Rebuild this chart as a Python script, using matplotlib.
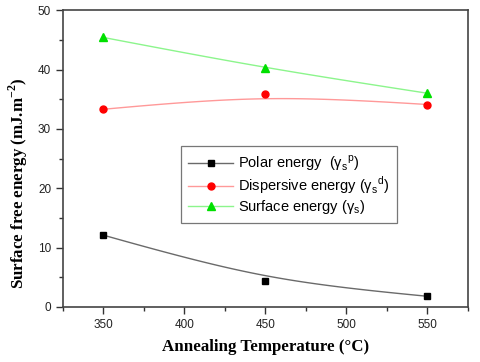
import numpy as np
import matplotlib
matplotlib.use("Agg")
import matplotlib.pyplot as plt
from matplotlib.ticker import MultipleLocator
from matplotlib.lines import Line2D

temperature = [350, 450, 550]
polar = [12.1, 4.4, 1.8]
dispersive = [33.3, 35.8, 34.1]
surface = [45.4, 40.2, 36.0]

labels = [r"Polar energy  (γ$_{\mathregular{s}}{}^{\mathregular{p}}$)",
          r"Dispersive energy (γ$_{\mathregular{s}}{}^{\mathregular{d}}$)",
          r"Surface energy (γ$_{\mathregular{s}}$)"]


def bspline(xs, ys, w=1.9, n=100):
    # rational quadratic B-spline (Origin-style smooth connection)
    t = np.linspace(0, 1, n)
    b0, b1, b2 = (1 - t) ** 2, 2 * t * (1 - t) * w, t ** 2
    d = b0 + b1 + b2
    x = (b0 * xs[0] + b1 * xs[1] + b2 * xs[2]) / d
    y = (b0 * ys[0] + b1 * ys[1] + b2 * ys[2]) / d
    return x, y


plt.rcParams["mathtext.fontset"] = "custom"
plt.rcParams["mathtext.rm"] = "Liberation Sans"
plt.rcParams["mathtext.bf"] = "Liberation Serif:bold"

fig = plt.figure(figsize=(4.8, 3.62), dpi=100)
ax = fig.add_axes([0.131, 0.152, 0.844, 0.820])

series = [
    (polar, "#6a6a6a", "black", "s", 4.5),
    (dispersive, "#ff9999", "#ff0000", "o", 5),
    (surface, "#8cf58c", "#00e000", "^", 5.5),
]
handles = []
for (vals, lc, mc, mk, ms), lab in zip(series, labels):
    cx, cy = bspline(temperature, vals)
    ax.plot(cx, cy, color=lc, lw=1.0, zorder=2)
    ax.plot(temperature, vals, linestyle="none", marker=mk, ms=ms,
            color=mc, mec=mc, zorder=3)
    handles.append(Line2D([], [], color=lc, lw=1.0, marker=mk, ms=ms,
                          mfc=mc, mec=mc))

ax.set_xlim(325, 575)
ax.set_ylim(0, 50)
ax.xaxis.set_major_locator(MultipleLocator(50))
ax.xaxis.set_minor_locator(MultipleLocator(25))
ax.yaxis.set_major_locator(MultipleLocator(10))
ax.yaxis.set_minor_locator(MultipleLocator(5))
ax.tick_params(which="both", direction="out", top=False, right=False,
               color="#333333", width=1.0, labelsize=8.5,
               labelfontfamily="Liberation Sans", labelcolor="#222222")
ax.tick_params(which="major", length=5)
ax.tick_params(which="minor", length=3)
for s in ax.spines.values():
    s.set_color("#444444")
    s.set_linewidth(1.2)

ax.set_xlabel("Annealing Temperature (°C)", family="Liberation Serif",
              fontweight="bold", fontsize=12.2, labelpad=6)
ylab = ax.set_ylabel(r"Surface free energy (mJ.m$^{\mathbf{-2}}$)",
                     family="Liberation Serif", fontweight="bold",
                     fontsize=12.2)
ylab.set_va("center")
ax.yaxis.set_label_coords(-0.111, 0.418)

leg = ax.legend(handles, labels, loc="upper left",
                bbox_to_anchor=(0.291, 0.542),
                prop={"family": "Liberation Sans", "size": 10.5},
                handlelength=3.1, handletextpad=0.35, labelspacing=0.12,
                borderpad=0.5, borderaxespad=0, fancybox=False,
                frameon=True)
leg.get_frame().set_edgecolor("#555555")
leg.get_frame().set_linewidth(0.9)

fig.savefig("out.png", dpi=100)
